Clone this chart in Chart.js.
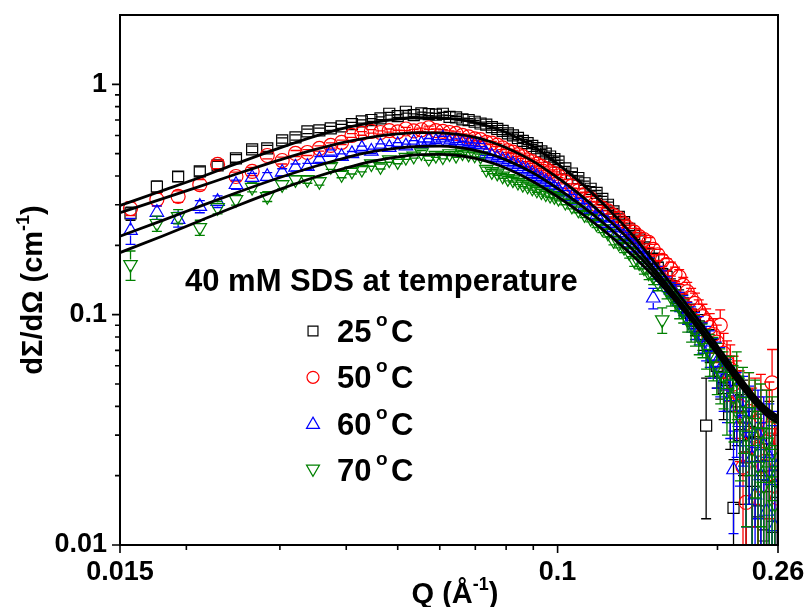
<!DOCTYPE html>
<html><head><meta charset="utf-8">
<script src="https://cdn.jsdelivr.net/npm/chart.js@4.4.1/dist/chart.umd.min.js"></script>
<style>html,body{margin:0;padding:0;background:#fff;}#wrap{width:810px;height:607px;}</style>
</head><body><div id="wrap"><canvas id="c" width="810" height="607"></canvas></div>
<script>
// ---------- data ----------
const Q = [0.0157,0.0176,0.0193,0.0212,0.0229,0.0248,0.0266,0.0284,0.0303,0.0321,0.0338,0.0356,0.0374,0.0392,
0.0410,0.0428,0.0446,0.0464,0.0482,0.0500,0.0518,0.0536,0.0554,0.0572,0.0590,0.0608,0.0626,0.0644,0.0662,0.0680,0.0698,0.0716,0.0734,0.0752,0.0770,0.0788,0.0806,0.0824,0.0842,0.0860,0.0878,0.0896,0.0914,0.0932,0.0950,0.0968,0.0986,0.1004,
0.1034,0.1064,0.1094,0.1124,0.1154,0.1184,0.1214,0.1244,0.1274,0.1304,0.1334,0.1364,0.1394,0.1424,0.1454,0.1484,0.1514,0.1544,0.1574,0.1604,0.1634,0.1664,0.1694,0.1724,0.1754,0.1784,0.1814,0.1844,0.1874,0.1904,0.1934,0.1964,0.1994,0.2024,0.2054,0.2084,0.2114,0.2144,0.2174,0.2204,0.2234,0.2264,0.2294,0.2324,0.2354,0.2384,0.2414,0.2444,0.2474,0.2504,0.2534,0.2564,0.2594];

const I25 = [0.275,0.360,0.398,0.419,0.445,0.477,0.522,0.527,0.571,0.588,0.625,0.631,0.644,0.657,
0.672,0.690,0.700,0.712,0.745,0.728,0.760,0.735,0.748,0.742,0.738,0.745,0.722,0.718,0.705,0.700,0.688,0.676,0.668,0.652,0.640,0.628,0.612,0.600,0.585,0.568,0.556,0.540,0.528,0.512,0.500,0.486,0.474,0.462,
0.432,0.410,0.392,0.372,0.352,0.338,0.318,0.300,0.281,0.266,0.252,0.236,0.224,0.212,0.196,0.184,0.175,0.160,0.150,0.146,0.133,0.126,0.118,0.112,0.102,0.100,0.092,0.089,0.081,0.033,0.074,0.066,0.060,0.056,0.048,0.052,0.040,0.0145,0.042,0.030,0.036,0.024,0.031,0.019,0.028,0.014,0.022,0.011,0.018,0.026,0.012,0.020,0.017];
const E25 = [0.018,0.020,0.020,0.019,0.018,0.018,0.017,0.016,0.015,0.015,0.014,0.014,0.013,0.013,
0.011,0.011,0.010,0.010,0.010,0.010,0.010,0.010,0.010,0.010,0.010,0.010,0.010,0.009,0.009,0.009,0.009,0.009,0.009,0.009,0.009,0.008,0.008,0.008,0.008,0.008,0.008,0.008,0.008,0.008,0.007,0.007,0.007,0.007,
0.008,0.008,0.008,0.008,0.008,0.008,0.008,0.008,0.008,0.008,0.008,0.008,0.008,0.008,0.008,0.009,0.009,0.009,0.009,0.010,0.010,0.010,0.010,0.010,0.011,0.011,0.011,0.011,0.011,0.020,0.012,0.012,0.012,0.013,0.013,0.014,0.014,0.009,0.015,0.015,0.016,0.014,0.016,0.010,0.016,0.009,0.015,0.009,0.014,0.016,0.009,0.015,0.013];

const I50 = [0.289,0.316,0.326,0.367,0.449,0.398,0.419,0.491,0.467,0.501,0.506,0.527,0.543,0.560,
0.600,0.612,0.625,0.618,0.630,0.622,0.640,0.628,0.635,0.648,0.630,0.625,0.618,0.612,0.600,0.592,0.580,0.575,0.560,0.556,0.545,0.530,0.515,0.508,0.495,0.485,0.470,0.462,0.450,0.440,0.430,0.418,0.410,0.400,
0.378,0.362,0.345,0.332,0.318,0.300,0.290,0.282,0.270,0.262,0.248,0.236,0.228,0.218,0.212,0.206,0.192,0.182,0.172,0.165,0.158,0.150,0.146,0.134,0.126,0.118,0.112,0.104,0.098,0.093,0.088,0.082,0.076,0.090,0.068,0.062,0.058,0.050,0.046,0.040,0.0218,0.0153,0.038,0.030,0.034,0.026,0.036,0.022,0.028,0.032,0.0506,0.018,0.016];
const E50 = [0.020,0.020,0.019,0.019,0.018,0.018,0.017,0.016,0.016,0.015,0.015,0.014,0.014,0.013,
0.011,0.011,0.011,0.010,0.010,0.010,0.010,0.010,0.010,0.010,0.010,0.010,0.010,0.010,0.009,0.009,0.009,0.009,0.009,0.009,0.009,0.009,0.008,0.008,0.008,0.008,0.008,0.008,0.008,0.008,0.008,0.007,0.007,0.007,
0.008,0.008,0.008,0.008,0.008,0.008,0.008,0.008,0.008,0.009,0.009,0.009,0.009,0.009,0.009,0.010,0.010,0.010,0.010,0.010,0.011,0.011,0.011,0.011,0.012,0.012,0.012,0.012,0.013,0.013,0.013,0.014,0.014,0.015,0.015,0.015,0.016,0.016,0.017,0.017,0.012,0.010,0.018,0.018,0.019,0.018,0.019,0.016,0.019,0.019,0.020,0.014,0.016];

const I60 = [0.232,0.278,0.259,0.295,0.310,0.367,0.394,0.398,0.415,0.436,0.440,0.472,0.506,0.486,
0.500,0.528,0.512,0.540,0.532,0.548,0.540,0.560,0.552,0.572,0.565,0.585,0.562,0.570,0.556,0.552,0.548,0.545,0.500,0.488,0.480,0.470,0.462,0.450,0.440,0.430,0.420,0.410,0.398,0.388,0.378,0.368,0.356,0.348,
0.338,0.325,0.312,0.296,0.286,0.270,0.262,0.248,0.238,0.226,0.218,0.205,0.196,0.186,0.176,0.168,0.118,0.152,0.145,0.136,0.128,0.124,0.114,0.110,0.102,0.096,0.090,0.086,0.080,0.076,0.072,0.066,0.062,0.058,0.052,0.049,0.044,0.0212,0.040,0.034,0.038,0.028,0.032,0.024,0.0165,0.030,0.020,0.027,0.014,0.024,0.019,0.012,0.022];
const E60 = [0.030,0.019,0.019,0.018,0.018,0.017,0.017,0.016,0.015,0.015,0.014,0.014,0.013,0.013,
0.011,0.011,0.011,0.011,0.010,0.010,0.010,0.010,0.010,0.010,0.010,0.010,0.010,0.010,0.010,0.009,0.009,0.009,0.009,0.009,0.009,0.009,0.009,0.008,0.008,0.008,0.008,0.008,0.008,0.008,0.008,0.007,0.007,0.007,
0.008,0.008,0.008,0.008,0.008,0.008,0.008,0.008,0.008,0.008,0.009,0.009,0.009,0.009,0.009,0.009,0.012,0.010,0.010,0.010,0.010,0.011,0.011,0.011,0.011,0.012,0.012,0.012,0.012,0.013,0.013,0.013,0.014,0.014,0.014,0.015,0.015,0.010,0.016,0.016,0.016,0.016,0.017,0.015,0.010,0.017,0.014,0.017,0.010,0.017,0.014,0.010,0.016];

const I70 = [0.165,0.249,0.267,0.239,0.292,0.316,0.357,0.326,0.367,0.386,0.386,0.379,0.440,0.406,
0.420,0.428,0.452,0.440,0.470,0.462,0.482,0.488,0.505,0.478,0.492,0.485,0.500,0.492,0.505,0.498,0.494,0.488,0.428,0.418,0.412,0.400,0.390,0.385,0.376,0.368,0.362,0.355,0.348,0.342,0.335,0.330,0.326,0.320,
0.308,0.296,0.285,0.272,0.262,0.248,0.236,0.226,0.210,0.204,0.196,0.186,0.172,0.168,0.160,0.152,0.146,0.138,0.095,0.128,0.120,0.116,0.108,0.104,0.096,0.089,0.086,0.080,0.078,0.072,0.068,0.0656,0.060,0.056,0.054,0.046,0.050,0.044,0.052,0.036,0.042,0.030,0.038,0.026,0.034,0.022,0.031,0.018,0.028,0.021,0.025,0.015,0.019];
const E70 = [0.024,0.019,0.019,0.018,0.018,0.017,0.016,0.016,0.015,0.015,0.014,0.014,0.013,0.013,
0.012,0.011,0.011,0.011,0.011,0.010,0.010,0.010,0.010,0.010,0.010,0.010,0.010,0.010,0.010,0.010,0.010,0.010,0.009,0.009,0.009,0.009,0.009,0.009,0.009,0.008,0.008,0.008,0.008,0.008,0.008,0.008,0.008,0.008,
0.008,0.008,0.008,0.008,0.009,0.009,0.009,0.009,0.009,0.009,0.010,0.010,0.010,0.010,0.010,0.010,0.011,0.011,0.012,0.011,0.011,0.012,0.012,0.012,0.012,0.013,0.013,0.013,0.013,0.014,0.014,0.014,0.015,0.015,0.015,0.016,0.016,0.016,0.017,0.017,0.017,0.018,0.018,0.018,0.018,0.016,0.019,0.014,0.019,0.016,0.019,0.012,0.015];

// model fit curves
const fitQ  = [0.015,0.018,0.021,0.025,0.03,0.035,0.04,0.045,0.05,0.055,0.06,0.065,0.07,0.075,0.08,0.09,0.1,0.11,0.12,0.13,0.14,0.15,0.16,0.17,0.18,0.19,0.2,0.21,0.22,0.23,0.24,0.25,0.26];
const fit25 = [0.298,0.345,0.391,0.455,0.530,0.596,0.648,0.684,0.706,0.716,0.715,0.703,0.682,0.653,0.618,0.537,0.452,0.378,0.314,0.260,0.215,0.176,0.145,0.1205,0.1015,0.0860,0.0730,0.0625,0.0540,0.0472,0.0420,0.0385,0.0362];
const fit50 = [0.277,0.318,0.358,0.410,0.470,0.522,0.563,0.592,0.609,0.617,0.616,0.606,0.588,0.562,0.531,0.463,0.393,0.333,0.280,0.236,0.198,0.164,0.1365,0.1145,0.0967,0.0822,0.0700,0.0601,0.0521,0.0458,0.0410,0.0377,0.0356];
const fit60 = [0.219,0.256,0.293,0.340,0.394,0.441,0.481,0.511,0.529,0.538,0.539,0.532,0.517,0.496,0.470,0.412,0.353,0.302,0.258,0.220,0.1866,0.1572,0.1320,0.1115,0.0944,0.0802,0.0684,0.0587,0.0509,0.0448,0.0401,0.0369,0.0349];
const fit70 = [0.186,0.219,0.253,0.298,0.350,0.396,0.434,0.464,0.484,0.495,0.497,0.491,0.477,0.457,0.432,0.378,0.325,0.279,0.240,0.2055,0.1763,0.1505,0.1277,0.1088,0.0925,0.0787,0.0670,0.0575,0.0497,0.0436,0.0390,0.0358,0.0339];

const seriesTemps = ['25','50','60','70'];
const legendTitle = '40 mM SDS at temperature';
const xTickValues = [0.015, 0.1, 0.26];
const xTickLabels = ['0.015', '0.1', '0.26'];
const xMinorTicks = [0.02,0.03,0.04,0.05,0.06,0.07,0.08,0.09,0.2];
const yTickValues = [0.01, 0.1, 1];
const yTickLabels = ['0.01', '0.1', '1'];
const yMinorTicks = [0.02,0.03,0.04,0.05,0.06,0.07,0.08,0.09,0.2,0.3,0.4,0.5,0.6,0.7,0.8,0.9];

// ---------- styles ----------
const FONT = "'Liberation Sans', Arial, sans-serif";
const COLORS = ['#000000', '#ff0000', '#0000ff', '#008000'];
const STYLES = [
  {pointStyle: 'rect', radius: 7.8, rotation: 0, gap: 5.5},
  {pointStyle: 'circle', radius: 7, rotation: 0, gap: 7},
  {pointStyle: 'triangle', radius: 7.8, rotation: 0, gap: 5},
  {pointStyle: 'triangle', radius: 7.8, rotation: 180, gap: 5}
];

const toXY = (xs, ys) => xs.map((x, i) => ({x: x, y: ys[i]}));
const seriesVals = [I25, I50, I60, I70];
const seriesErrs = [E25, E50, E60, E70];
const fits = [fit25, fit50, fit60, fit70];

const datasets = [];
fits.forEach((f, i) => datasets.push({
  label: 'fit ' + seriesTemps[i], data: toXY(fitQ, f), showLine: true,
  borderColor: '#000', borderWidth: 2.8, pointRadius: 0, fill: false,
  cubicInterpolationMode: 'monotone', order: 0, clip: 0
}));
seriesVals.forEach((v, i) => datasets.push({
  label: seriesTemps[i] + ' °C', data: toXY(Q, v), errors: seriesErrs[i],
  showLine: false, borderColor: COLORS[i], backgroundColor: 'rgba(0,0,0,0)',
  pointStyle: STYLES[i].pointStyle, pointRadius: STYLES[i].radius,
  pointRotation: STYLES[i].rotation, pointBorderWidth: 1.2,
  pointBackgroundColor: 'rgba(0,0,0,0)', pointBorderColor: COLORS[i],
  order: 4 - i, clip: 0, gap: STYLES[i].gap
}));

// error bars drawn right before each data set
const errorBarPlugin = {
  id: 'errbars',
  beforeDatasetDraw(chart, args) {
    const ds = chart.data.datasets[args.index];
    if (!ds.errors) return;
    const {ctx, chartArea: a} = chart;
    const xs = chart.scales.x, ys = chart.scales.y;
    const cap = 5, gap = ds.gap;
    ctx.save();
    ctx.beginPath(); ctx.rect(a.left, a.top, a.right - a.left, a.bottom - a.top); ctx.clip();
    ctx.strokeStyle = ds.borderColor; ctx.lineWidth = 1.3;
    ds.data.forEach((p, i) => {
      const e = ds.errors[i];
      const px = xs.getPixelForValue(p.x);
      const py = ys.getPixelForValue(p.y);
      const yt = ys.getPixelForValue(p.y + e);
      const yb = ys.getPixelForValue(Math.max(p.y - e, 1e-5));
      ctx.beginPath();
      if (yt < py - gap) { ctx.moveTo(px, yt); ctx.lineTo(px, py - gap); }
      if (yb > py + gap) { ctx.moveTo(px, py + gap); ctx.lineTo(px, yb); }
      ctx.moveTo(px - cap, yt); ctx.lineTo(px + cap, yt);
      ctx.moveTo(px - cap, yb); ctx.lineTo(px + cap, yb);
      ctx.stroke();
    });
    ctx.restore();
  }
};

function drawMarker(ctx, kind, x, y, r, rot) {
  ctx.beginPath();
  if (kind === 'rect') {
    const s = r * Math.SQRT1_2; ctx.rect(x - s, y - s, 2 * s, 2 * s);
  } else if (kind === 'circle') {
    ctx.arc(x, y, r, 0, Math.PI * 2);
  } else {
    let rad = rot * Math.PI / 180;
    for (let k = 0; k < 3; k++) {
      const X = x + Math.sin(rad) * r, Y = y - Math.cos(rad) * r;
      if (k === 0) ctx.moveTo(X, Y); else ctx.lineTo(X, Y);
      rad += 2 * Math.PI / 3;
    }
    ctx.closePath();
  }
  ctx.stroke();
}

function drawSup(ctx, parts, x, y, align) {
  const main = "bold 29px " + FONT, sup = "bold 18px " + FONT;
  let w = 0;
  parts.forEach(p => { ctx.font = p[1] ? sup : main; w += ctx.measureText(p[0]).width; });
  let cx = align === 'center' ? x - w / 2 : x;
  parts.forEach(p => {
    ctx.font = p[1] ? sup : main;
    ctx.fillText(p[0], cx, p[1] ? y - 13 : y);
    cx += ctx.measureText(p[0]).width;
  });
}

const decorPlugin = {
  id: 'decor',
  afterDraw(chart) {
    const {ctx, chartArea: a} = chart;
    const xs = chart.scales.x, ys = chart.scales.y;
    ctx.save();
    ctx.strokeStyle = '#000'; ctx.lineWidth = 2;
    ctx.strokeRect(a.left, a.top, a.right - a.left, a.bottom - a.top);
    ctx.lineWidth = 1.6;
    ctx.beginPath();
    xTickValues.forEach(v => { const p = xs.getPixelForValue(v); ctx.moveTo(p, a.bottom); ctx.lineTo(p, a.bottom + 8); });
    xMinorTicks.forEach(v => { const p = xs.getPixelForValue(v); ctx.moveTo(p, a.bottom); ctx.lineTo(p, a.bottom + 5); });
    yTickValues.forEach(v => { const p = ys.getPixelForValue(v); ctx.moveTo(a.left, p); ctx.lineTo(a.left - 8, p); });
    yMinorTicks.forEach(v => { const p = ys.getPixelForValue(v); ctx.moveTo(a.left, p); ctx.lineTo(a.left - 5, p); });
    ctx.stroke();

    ctx.fillStyle = '#000'; ctx.textBaseline = 'alphabetic';
    drawSup(ctx, [['Q (Å', false], ['-1', true], [')', false]], (a.left + a.right) / 2 + 6, 603, 'center');
    ctx.save();
    ctx.translate(42, 290); ctx.rotate(-Math.PI / 2);
    drawSup(ctx, [['dΣ/dΩ (cm', false], ['-1', true], [')', false]], 0, 0, 'center');
    ctx.restore();

    ctx.font = "bold 31px " + FONT;
    ctx.fillText(legendTitle, 185, 291);
    seriesTemps.forEach((t, i) => {
      const cy = 331 + i * 46.3;
      ctx.strokeStyle = COLORS[i]; ctx.lineWidth = 1.2;
      const st = STYLES[i];
      drawMarker(ctx, st.pointStyle, 313, cy + (i === 2 ? 1 : (i === 3 ? -1 : 0)), st.pointStyle === 'rect' ? 7 : (st.pointStyle === 'circle' ? 6 : 7.5), st.rotation);
      ctx.fillStyle = '#000';
      ctx.font = "bold 31px " + FONT;
      ctx.fillText(t, 337, cy + 11);
      ctx.font = "bold 19px " + FONT;
      ctx.fillText('o', 376, cy - 5);
      ctx.font = "bold 31px " + FONT;
      ctx.fillText('C', 391, cy + 11);
    });
    ctx.restore();
  }
};

new Chart(document.getElementById('c'), {
  type: 'scatter',
  data: {datasets: datasets},
  options: {
    responsive: false, animation: false, devicePixelRatio: 1,
    layout: {padding: {top: 15, right: 32, left: 0, bottom: 0}},
    plugins: {legend: {display: false}, tooltip: {enabled: false}},
    scales: {
      x: {
        type: 'logarithmic', min: 0.015, max: 0.26,
        grid: {display: false, drawTicks: false}, border: {display: false},
        afterBuildTicks: s => { s.ticks = xTickValues.map(v => ({value: v})); },
        afterFit: s => { s.height = 62; s.paddingLeft = 0; s.paddingRight = 0; },
        ticks: {
          autoSkip: false, maxRotation: 0, minRotation: 0, padding: 14, color: '#000',
          font: {family: FONT, weight: 'bold', size: 27, lineHeight: 1},
          callback: v => { const k = xTickValues.indexOf(v); return k >= 0 ? xTickLabels[k] : ''; }
        }
      },
      y: {
        type: 'logarithmic', min: 0.01, max: 2,
        grid: {display: false, drawTicks: false}, border: {display: false},
        afterBuildTicks: s => { s.ticks = yTickValues.map(v => ({value: v})); },
        afterFit: s => { s.width = 120; s.paddingTop = 0; s.paddingBottom = 0; },
        ticks: {
          autoSkip: false, padding: 13, color: '#000',
          font: {family: FONT, weight: 'bold', size: 27, lineHeight: 1},
          callback: v => { const k = yTickValues.indexOf(v); return k >= 0 ? yTickLabels[k] : ''; }
        }
      }
    }
  },
  plugins: [errorBarPlugin, decorPlugin]
});
</script>
</body></html>
